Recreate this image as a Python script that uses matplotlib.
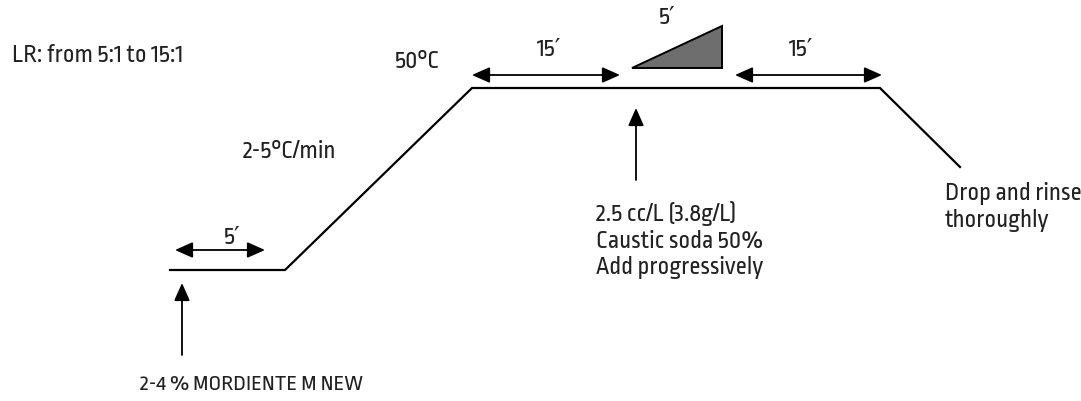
import matplotlib
matplotlib.use("Agg")
import matplotlib.pyplot as plt
from matplotlib.patches import Polygon
from matplotlib import font_manager

# --- diagram data (layout coordinates, origin at top-left) ---
profile_x = [170, 285, 472, 880, 960]
profile_y = [270, 270, 88, 88, 167]

dur_arrows = [(175, 265, 250), (472, 620, 75), (735, 882, 75)]   # x0, x1, y
dur_labels = ["5′", "15′", "15′"]
dur_label_pos = [(232, 238), (548, 50), (800, 50)]

ramp_tri_x = [632, 722, 722]
ramp_tri_y = [68, 68, 26]
ramp_label = "5′"

add_arrows = [(182, 355, 283), (636, 180, 108)]  # x, y_tail, y_head

texts = [
    (12, 55, "LR: from 5:1 to 15:1", 18),
    (395, 62, "50°C", 18),
    (243, 152, "2-5°C/min", 18),
    (140, 385, "2-4 % MORDIENTE M NEW", 16),
    (596, 240, "2.5 cc/L (3.8g/L)\nCaustic soda 50%\nAdd progressively", 18),
    (945, 207, "Drop and rinse\nthoroughly", 18),
]

names = {f.name for f in font_manager.fontManager.ttflist}
family = (["Ropa Sans"] if "Ropa Sans" in names else []) + ["DejaVu Sans"]
FS = 18
TC = "#222222"

fig = plt.figure(figsize=(10.81, 4.01), dpi=100)
ax = fig.add_axes([0, 0, 1, 1])
ax.set_xlim(0, 1081)
ax.set_ylim(401, 0)
ax.axis("off")

ax.plot(profile_x, profile_y, color="black", lw=1.6, solid_joinstyle="miter")

for (x0, x1, y) in dur_arrows:
    ax.annotate("", xy=(x1, y), xytext=(x0, y),
                arrowprops=dict(arrowstyle="<|-|>,head_length=0.9,head_width=0.4",
                                color="black", lw=1.3, shrinkA=0, shrinkB=0,
                                mutation_scale=12))
for (x, y), lab in zip(dur_label_pos, dur_labels):
    ax.text(x, y, lab, ha="center", va="center", fontsize=FS, family=family, color=TC)

ax.add_patch(Polygon(list(zip(ramp_tri_x, ramp_tri_y)), closed=True,
                     facecolor="#6e6e6e", edgecolor="black", lw=1.4))
ax.text(667, 18, ramp_label, ha="center", va="center", fontsize=FS, family=family, color=TC)

for (x, yt, yh) in add_arrows:
    ax.annotate("", xy=(x, yh), xytext=(x, yt),
                arrowprops=dict(arrowstyle="-|>,head_length=0.9,head_width=0.4",
                                color="black", lw=1.3, shrinkA=0, shrinkB=0,
                                mutation_scale=12))

for (x, y, s, fs) in texts:
    ax.text(x, y, s, ha="left", va="center",
            fontsize=fs, family=family, color=TC, linespacing=1.2)

fig.savefig("out.png", dpi=100)
